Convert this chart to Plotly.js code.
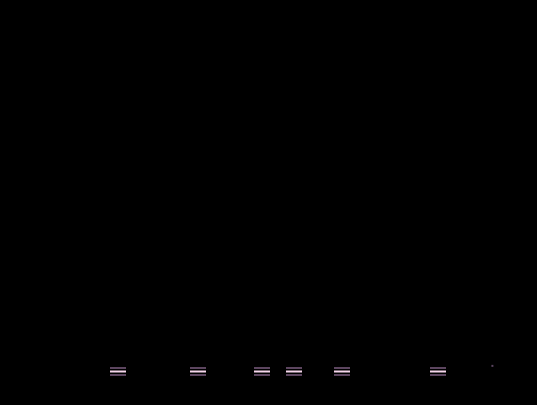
<!DOCTYPE html>
<html>
<head>
<meta charset="utf-8">
<script src="https://cdn.plot.ly/plotly-3.0.1.min.js"></script>
<style>html,body{margin:0;padding:0;background:#000;overflow:hidden}#chart{width:537px;height:405px;}</style>
</head>
<body>
<div id="chart"></div>
<script>
// Data
var positions = [2, 7, 11, 13, 16, 22];
var lowValues = [1, 1, 1, 1, 1, 1];
var medianValues = [2, 2, 2, 2, 2, 2];
var highValues = [3, 3, 3, 3, 3, 3];
var outlierX = [25.4];
var outlierY = [3.6];

function tickTrace(name, yvals, color, width) {
  return {
    type: 'scatter',
    mode: 'markers',
    name: name,
    x: positions,
    y: yvals,
    marker: {
      symbol: 'line-ew',
      size: 11.43,
      color: color,
      line: {color: color, width: width}
    },
    hoverinfo: 'x+y'
  };
}

var data = [
  tickTrace('low', lowValues, '#5c455f', 2),
  tickTrace('high', highValues, '#5c455f', 2),
  tickTrace('median', medianValues, '#f6d6ec', 2),
  {
    type: 'scatter', mode: 'markers', name: 'outlier',
    x: outlierX, y: outlierY,
    marker: {symbol: 'square', size: 2, color: '#5a4560', line: {width: 0}}
  }
];

var layout = {
  width: 537,
  height: 405,
  paper_bgcolor: '#000000',
  plot_bgcolor: '#000000',
  showlegend: false,
  margin: {l: 50, r: 30, t: 27, b: 27},
  font: {family: 'Open Sans', color: '#000000'},
  xaxis: {
    range: [-2.25, 26.3125],
    showgrid: false, zeroline: false, showline: false,
    showticklabels: false, ticks: ''
  },
  yaxis: {
    range: [0.15, 100],
    showgrid: false, zeroline: false, showline: false,
    showticklabels: false, ticks: ''
  }
};

Plotly.newPlot('chart', data, layout, {displayModeBar: false, staticPlot: true});
</script>
</body>
</html>
